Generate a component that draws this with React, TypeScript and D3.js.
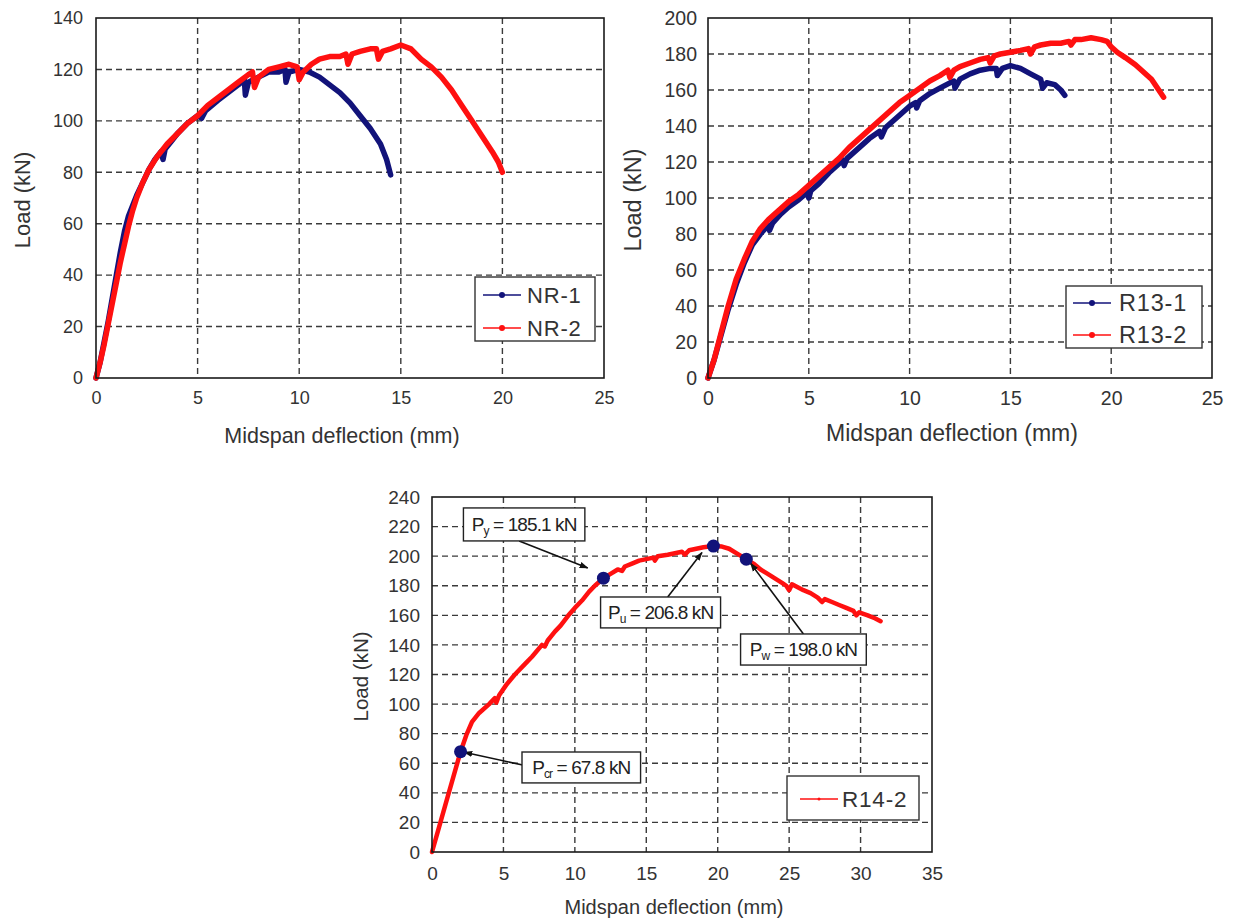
import { useEffect, useRef } from "react";
import * as d3 from "d3";

type Pt = [number, number];

// ---- data (deflection mm, load kN) ----
const nr1: Pt[] = [
  [0, 0], [0.2, 6], [0.4, 14], [0.6, 22], [0.8, 31], [1.0, 40], [1.2, 49], [1.4, 57], [1.6, 63],
  [1.8, 67], [2.0, 71], [2.3, 76], [2.6, 81], [2.9, 85], [3.2, 88], [3.3, 85], [3.4, 89], [3.7, 92],
  [4.0, 95], [4.5, 99], [5.0, 102], [5.2, 101], [5.4, 104], [6.0, 108], [6.5, 111], [7.0, 114],
  [7.3, 116], [7.35, 110], [7.5, 115], [8.0, 117], [8.5, 119], [9.0, 119], [9.3, 120], [9.35, 115],
  [9.5, 119], [10.0, 120], [10.5, 119], [11.0, 117], [11.5, 114], [12.0, 111], [12.5, 107],
  [13.0, 102], [13.5, 97], [14.0, 91], [14.3, 85], [14.5, 79],
];
const nr2: Pt[] = [
  [0, 0], [0.2, 6], [0.4, 13], [0.6, 21], [0.8, 29], [1.0, 37], [1.2, 45], [1.4, 52], [1.6, 59],
  [1.8, 65], [2.0, 70], [2.3, 76], [2.6, 81], [3.0, 86], [3.5, 91], [4.0, 95], [4.5, 99], [5.0, 102],
  [5.5, 106], [6.0, 109], [6.5, 112], [7.0, 115], [7.5, 118], [7.7, 119], [7.8, 113], [8.0, 117],
  [8.5, 120], [9.0, 121], [9.5, 122], [9.9, 121], [10.0, 116], [10.2, 119], [10.6, 122], [11.0, 124],
  [11.5, 125], [12.0, 125], [12.3, 126], [12.4, 122], [12.6, 126], [13.0, 127], [13.5, 128],
  [13.8, 128], [13.9, 124], [14.1, 127], [14.5, 128], [15.0, 129.5], [15.5, 128], [16.0, 124],
  [16.5, 121], [17.0, 117], [17.5, 112], [18.0, 106], [18.5, 100], [19.0, 94], [19.5, 88],
  [19.8, 84], [20.0, 80],
];
const r13_1: Pt[] = [
  [0, 0], [0.3, 10], [0.6, 22], [1.0, 38], [1.4, 52], [1.8, 64], [2.2, 74], [2.6, 80], [3.0, 85],
  [3.05, 82], [3.2, 86], [3.6, 91], [4.0, 95], [4.5, 99], [4.9, 103], [5.0, 100], [5.1, 104],
  [5.5, 108], [6.0, 114], [6.5, 119], [6.7, 121], [6.75, 118], [6.9, 122], [7.5, 128], [8.0, 133],
  [8.5, 137], [8.6, 134], [8.8, 139], [9.5, 146], [10.0, 151], [10.3, 153], [10.35, 150],
  [10.5, 154], [11.0, 158], [11.5, 161], [12.0, 164], [12.2, 165], [12.25, 161], [12.5, 166],
  [13.0, 169], [13.5, 171], [14.0, 172], [14.3, 172], [14.35, 168], [14.6, 172], [15.0, 173.5],
  [15.5, 172], [16.0, 169], [16.5, 166], [16.6, 161], [16.8, 164], [17.2, 163], [17.5, 160],
  [17.7, 157],
];
const r13_2: Pt[] = [
  [0, 0], [0.3, 10], [0.6, 23], [1.0, 40], [1.4, 55], [1.8, 66], [2.2, 76], [2.6, 83], [3.0, 88],
  [3.5, 93], [4.0, 98], [4.5, 102], [5.0, 107], [5.5, 112], [6.0, 117], [6.5, 122], [7.0, 128],
  [7.5, 133], [8.0, 138], [8.5, 143], [9.0, 148], [9.5, 153], [10.0, 157], [10.5, 161],
  [11.0, 165], [11.5, 168], [11.9, 171], [12.0, 167], [12.2, 171], [12.5, 173], [13.0, 175],
  [13.5, 177], [13.9, 178], [14.0, 175], [14.2, 179], [14.5, 180], [15.0, 181], [15.5, 182],
  [15.9, 183], [16.0, 180], [16.2, 184], [16.5, 185], [17.0, 186], [17.5, 186], [17.9, 187],
  [18.0, 185], [18.2, 188], [18.5, 188], [19.0, 189], [19.5, 188], [19.8, 187], [20.0, 184],
  [20.3, 181], [20.7, 178], [21.2, 174], [21.6, 170], [22.0, 166], [22.3, 161], [22.6, 156],
];
const r14_2: Pt[] = [
  [0, 0], [0.5, 17], [1.0, 34], [1.5, 51], [2.0, 67.8], [2.4, 79], [2.8, 88], [3.3, 94], [4.0, 100],
  [4.4, 104], [4.5, 101], [4.7, 106], [5.2, 113], [5.8, 120], [6.5, 127], [7.0, 132], [7.7, 140],
  [7.9, 139], [8.1, 143], [8.6, 149], [9.0, 153], [9.55, 160], [10.0, 165], [10.5, 170],
  [11.0, 176], [11.4, 180], [12.0, 185.1], [12.5, 188], [13.0, 191], [13.3, 190], [13.5, 193],
  [14.0, 195], [14.5, 197], [15.0, 198], [15.5, 199], [15.6, 197], [15.8, 200], [16.5, 201],
  [17.0, 202], [17.5, 203], [17.7, 201], [18.0, 204], [18.5, 205], [19.0, 206], [19.7, 206.8],
  [20.3, 206.5], [20.8, 205], [21.3, 202], [22.0, 198], [22.5, 195], [23.0, 191], [23.5, 188],
  [24.0, 185], [24.5, 182], [24.8, 180], [25.0, 177], [25.2, 181], [26.0, 177], [26.5, 175],
  [27.0, 172], [27.3, 169], [27.5, 171], [28.0, 169], [28.5, 167], [29.0, 165], [29.5, 163],
  [29.7, 160], [29.9, 162], [30.5, 160], [31.0, 158], [31.4, 156],
];

// key points on R14-2 and their labels
const r14Points: Pt[] = [[2.0, 67.8], [12.0, 185.1], [19.7, 206.8], [22.0, 198.0]];
const r14PointNames = ["cr", "y", "u", "w"];
const r14PointValues = ["67.8", "185.1", "206.8", "198.0"];

const nrXTicks = [0, 5, 10, 15, 20, 25];
const nrYTicks = [0, 20, 40, 60, 80, 100, 120, 140];
const r13XTicks = [0, 5, 10, 15, 20, 25];
const r13YTicks = [0, 20, 40, 60, 80, 100, 120, 140, 160, 180, 200];
const r14XTicks = [0, 5, 10, 15, 20, 25, 30, 35];
const r14YTicks = [0, 20, 40, 60, 80, 100, 120, 140, 160, 180, 200, 220, 240];

const RED = "#ff1010";
const NAVY = "#12137a";
const TXT = "#333";
const FONT = "'Liberation Sans', Arial, sans-serif";

interface Series { name: string; color: string; data: Pt[]; width: number; }
interface Panel {
  left: number; right: number; top: number; bottom: number;
  xTicks: number[]; yTicks: number[];
  series: Series[];
  tickSize: number; xTickY: number; yTickPad: number;
  xLabelY: number; yLabelX: number; labelSize: number;
  legend: { x: number; y: number; w: number; h: number; rows: number[]; lineX: number; textX: number; size: number };
}

const panels: Panel[] = [
  {
    left: 96, right: 604, top: 18, bottom: 378, xTicks: nrXTicks, yTicks: nrYTicks,
    series: [
      { name: "NR-1", color: NAVY, data: nr1, width: 5.5 },
      { name: "NR-2", color: RED, data: nr2, width: 5.5 },
    ],
    tickSize: 18, xTickY: 404, yTickPad: 13, xLabelY: 443, yLabelX: 22, labelSize: 21.5,
    legend: { x: 475, y: 277, w: 120, h: 64, rows: [295, 328], lineX: 483, textX: 527, size: 22 },
  },
  {
    left: 708, right: 1212, top: 18, bottom: 378, xTicks: r13XTicks, yTicks: r13YTicks,
    series: [
      { name: "R13-1", color: NAVY, data: r13_1, width: 5.5 },
      { name: "R13-2", color: RED, data: r13_2, width: 5.5 },
    ],
    tickSize: 19.5, xTickY: 405, yTickPad: 11, xLabelY: 441, yLabelX: 633, labelSize: 23,
    legend: { x: 1066, y: 286, w: 136, h: 62, rows: [303, 335], lineX: 1073, textX: 1119, size: 23.5 },
  },
  {
    left: 432, right: 932, top: 497, bottom: 852, xTicks: r14XTicks, yTicks: r14YTicks,
    series: [{ name: "R14-2", color: RED, data: r14_2, width: 4.5 }],
    tickSize: 19, xTickY: 880, yTickPad: 12, xLabelY: 914, yLabelX: 361, labelSize: 20,
    legend: { x: 787, y: 776, w: 132, h: 44, rows: [799], lineX: 800, textX: 842, size: 22.5 },
  },
];

// annotation boxes for R14-2, in data units: [x0, yTop, x1, yBottom], arrow from -> to
const boxes = [
  { box: [6.3, 67.6, 14.6, 46.7], from: [6.35, 58.8], to: [2.25, 67.4] },
  { box: [2.2, 232.6, 10.7, 210.3], from: [6.1, 210.3], to: [10.9, 192] },
  { box: [11.8, 172.4, 20.2, 151.5], from: [16.5, 172.4], to: [18.9, 202.5] },
  { box: [21.6, 147.4, 30.4, 126.4], from: [26.0, 147.4], to: [22.3, 195.2] },
];

export default function App() {
  const ref = useRef<SVGSVGElement | null>(null);

  useEffect(() => {
    const svg = d3.select(ref.current);
    svg.selectAll("*").remove();

    svg.append("defs").append("marker")
      .attr("id", "arrow").attr("viewBox", "0 0 10 10").attr("refX", 9).attr("refY", 5)
      .attr("markerWidth", 9).attr("markerHeight", 9).attr("orient", "auto-start-reverse")
      .attr("markerUnits", "userSpaceOnUse")
      .append("path").attr("d", "M0,1.5 L10,5 L0,8.5 z").attr("fill", "#111");

    panels.forEach((p, pi) => {
      const g = svg.append("g");
      const xMax = p.xTicks[p.xTicks.length - 1];
      const yMax = p.yTicks[p.yTicks.length - 1];
      const x = d3.scaleLinear().domain([0, xMax]).range([p.left, p.right]);
      const y = d3.scaleLinear().domain([0, yMax]).range([p.bottom, p.top]);

      // grid
      g.selectAll("line.vg").data(p.xTicks.slice(1, -1)).enter().append("line")
        .attr("x1", (d) => x(d)).attr("x2", (d) => x(d)).attr("y1", p.top).attr("y2", p.bottom)
        .attr("stroke", "#3a3a3a").attr("stroke-width", 1.4).attr("stroke-dasharray", "6,4");
      g.selectAll("line.hg").data(p.yTicks.slice(1, -1)).enter().append("line")
        .attr("y1", (d) => y(d)).attr("y2", (d) => y(d)).attr("x1", p.left).attr("x2", p.right)
        .attr("stroke", "#3a3a3a").attr("stroke-width", 1.4).attr("stroke-dasharray", "6,4");

      // tick labels
      const ax = g.append("g").attr("transform", `translate(0,${p.bottom})`)
        .call(d3.axisBottom(x).tickValues(p.xTicks).tickSize(0).tickPadding(0).tickFormat(d3.format("d")));
      ax.select(".domain").remove();
      ax.selectAll("text").attr("y", p.xTickY - p.bottom).attr("dy", 0)
        .attr("font-size", p.tickSize).attr("font-family", FONT).attr("fill", TXT);
      const ay = g.append("g").attr("transform", `translate(${p.left},0)`)
        .call(d3.axisLeft(y).tickValues(p.yTicks).tickSize(0).tickPadding(p.yTickPad).tickFormat(d3.format("d")));
      ay.select(".domain").remove();
      ay.selectAll("text").attr("font-size", p.tickSize).attr("font-family", FONT).attr("fill", TXT);

      // axis titles
      g.append("text").attr("x", (p.left + p.right) / 2 - 8).attr("y", p.xLabelY)
        .attr("text-anchor", "middle").attr("font-size", p.labelSize).attr("font-family", FONT)
        .attr("fill", TXT).text("Midspan deflection (mm)");
      g.append("text").attr("transform", `translate(${p.yLabelX},${(p.top + p.bottom) / 2 + 2}) rotate(-90)`)
        .attr("text-anchor", "middle").attr("dy", "0.35em").attr("font-size", p.labelSize + 0.5)
        .attr("font-family", FONT).attr("fill", TXT).text("Load (kN)");

      // curves
      const line = d3.line<Pt>().x((d) => x(d[0])).y((d) => y(d[1]));
      p.series.forEach((s) => {
        g.append("path").datum(s.data).attr("d", line).attr("fill", "none")
          .attr("stroke", s.color).attr("stroke-width", s.width)
          .attr("stroke-linejoin", "round").attr("stroke-linecap", "round");
      });

      // frame
      g.append("rect").attr("x", p.left).attr("y", p.top)
        .attr("width", p.right - p.left).attr("height", p.bottom - p.top)
        .attr("fill", "none").attr("stroke", "#1a1a1a").attr("stroke-width", 1.6);

      if (pi === 2) {
        boxes.forEach((b, i) => {
          const [bx0, by0, bx1, by1] = b.box;
          g.append("line").attr("x1", x(b.from[0])).attr("y1", y(b.from[1]))
            .attr("x2", x(b.to[0])).attr("y2", y(b.to[1]))
            .attr("stroke", "#111").attr("stroke-width", 1.6).attr("marker-end", "url(#arrow)");
          g.append("rect").attr("x", x(bx0)).attr("y", y(by0))
            .attr("width", x(bx1) - x(bx0)).attr("height", y(by1) - y(by0))
            .attr("fill", "#fff").attr("stroke", "#222").attr("stroke-width", 1.4);
          const t = g.append("text").attr("x", (x(bx0) + x(bx1)) / 2).attr("y", (y(by0) + y(by1)) / 2 + 6.5)
            .attr("text-anchor", "middle").attr("font-size", 19).attr("letter-spacing", -0.9)
            .attr("font-family", FONT).attr("fill", "#222");
          t.append("tspan").text("P");
          t.append("tspan").attr("font-size", 12).attr("dy", 4).text(r14PointNames[i]);
          t.append("tspan").attr("dy", -4).text(` = ${r14PointValues[i]} kN`);
        });
        g.selectAll("circle.kp").data(r14Points).enter().append("circle")
          .attr("cx", (d) => x(d[0])).attr("cy", (d) => y(d[1])).attr("r", 6.5).attr("fill", NAVY);
      }

      // legend
      const L = p.legend;
      g.append("rect").attr("x", L.x).attr("y", L.y).attr("width", L.w).attr("height", L.h)
        .attr("fill", "#fff").attr("stroke", "#333").attr("stroke-width", 1.4);
      p.series.forEach((s, i) => {
        const ry = L.rows[i];
        g.append("line").attr("x1", L.lineX).attr("x2", L.lineX + 38).attr("y1", ry).attr("y2", ry)
          .attr("stroke", s.color).attr("stroke-width", 1.5);
        g.append("circle").attr("cx", L.lineX + 19).attr("cy", ry).attr("r", pi === 2 ? 1.5 : 3).attr("fill", s.color);
        g.append("text").attr("x", L.textX).attr("y", ry).attr("dy", "0.36em").attr("letter-spacing", 0.8)
          .attr("font-size", L.size).attr("font-family", FONT).attr("fill", TXT).text(s.name);
      });
    });
  }, []);

  return (
    <div style={{ position: "absolute", left: 0, top: 0 }}>
      <svg ref={ref} width={1256} height={920} style={{ background: "#fff", display: "block" }} />
    </div>
  );
}
